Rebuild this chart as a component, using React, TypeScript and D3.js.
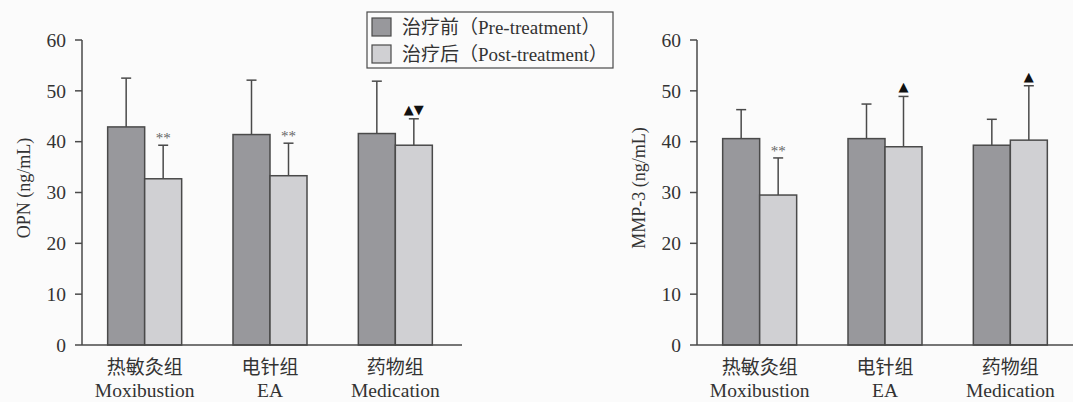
import * as d3 from "d3";

const categoriesZh = ["热敏灸组", "电针组", "药物组"];
const categoriesEn = ["Moxibustion", "EA", "Medication"];
const seriesKeys = ["pre", "post"];
const legendLabels = ["治疗前（Pre-treatment）", "治疗后（Post-treatment）"];

const opnPre = [42.9, 41.4, 41.6];
const opnPreSd = [9.6, 10.7, 10.3];
const opnPost = [32.7, 33.3, 39.3];
const opnPostSd = [6.6, 6.4, 5.2];
const opnMarks = ["**", "**", "▲▼"];

const mmpPre = [40.6, 40.6, 39.3];
const mmpPreSd = [5.7, 6.8, 5.1];
const mmpPost = [29.5, 39.0, 40.3];
const mmpPostSd = [7.3, 9.9, 10.7];
const mmpMarks = ["**", "▲", "▲"];

const yTicks = [0, 10, 20, 30, 40, 50, 60];

const COLORS = { pre: "#98989c", post: "#d0d0d3" };
const STROKE = "#4a4a4a";
const TEXT = "#333";
const SERIF = "'Liberation Serif', 'Noto Sans CJK SC', serif";

type PanelProps = {
  left: number;
  right: number;
  label: string;
  pre: number[];
  preSd: number[];
  post: number[];
  postSd: number[];
  marks: string[];
};

function Panel({ left, right, label, pre, preSd, post, postSd, marks }: PanelProps) {
  const y = d3.scaleLinear().domain([0, 60]).range([345, 40]);
  const x = d3.scalePoint().domain(categoriesZh).range([left, left + 376]).padding(0.5);
  const inner = d3.scaleBand().domain(seriesKeys).range([-37, 37]);

  const rows = categoriesZh.flatMap((c, i) => [
    { c, i, key: "pre", v: pre[i], sd: preSd[i] },
    { c, i, key: "post", v: post[i], sd: postSd[i] }
  ]);

  return (
    <g>
      {rows.map((d) => {
        const x0 = (x(d.c) ?? 0) + (inner(d.key) ?? 0);
        const w = inner.bandwidth();
        const cx = x0 + w / 2;
        return (
          <g key={d.c + d.key}>
            <line x1={cx} x2={cx} y1={y(d.v)} y2={y(d.v + d.sd)} stroke={STROKE} strokeWidth={1.5} />
            <line x1={cx - 5} x2={cx + 5} y1={y(d.v + d.sd)} y2={y(d.v + d.sd)} stroke={STROKE} strokeWidth={1.5} />
            <rect
              x={x0}
              y={y(d.v)}
              width={w}
              height={y(0) - y(d.v)}
              fill={COLORS[d.key as "pre" | "post"]}
              stroke={STROKE}
              strokeWidth={1.5}
            />
          </g>
        );
      })}
      {categoriesZh.map((c, i) => {
        const cx = (x(c) ?? 0) + (inner("post") ?? 0) + inner.bandwidth() / 2;
        const top = y(post[i] + postSd[i]);
        const star = marks[i] === "**";
        return (
          <text
            key={"m" + c}
            x={cx}
            y={top - (star ? 2 : 5)}
            textAnchor="middle"
            fontSize={star ? 15 : 13}
            fontFamily={star ? SERIF : "'DejaVu Sans', sans-serif"}
            fill={star ? "#666" : "#111"}
          >
            {marks[i]}
          </text>
        );
      })}
      <line x1={left} x2={left} y1={y(0)} y2={y(60)} stroke={STROKE} strokeWidth={1.5} />
      <line x1={left} x2={right} y1={y(0)} y2={y(0)} stroke={STROKE} strokeWidth={1.5} />
      {yTicks.map((t) => (
        <g key={t}>
          <line x1={left - 7} x2={left} y1={y(t)} y2={y(t)} stroke={STROKE} strokeWidth={1.5} />
          <text
            x={left - 16}
            y={y(t)}
            dy="0.35em"
            textAnchor="end"
            fontSize={19.5}
            fontFamily={SERIF}
            fill={TEXT}
          >
            {t}
          </text>
        </g>
      ))}
      {categoriesZh.map((c, i) => (
        <g key={"c" + c}>
          <text x={x(c)} y={374} textAnchor="middle" fontSize={19} fontFamily={SERIF} fill={TEXT}>
            {c}
          </text>
          <text x={x(c)} y={397} textAnchor="middle" fontSize={19.5} fontFamily={SERIF} fill={TEXT}>
            {categoriesEn[i]}
          </text>
        </g>
      ))}
      <text
        transform={`translate(${left - 58},188) rotate(-90)`}
        textAnchor="middle"
        dy="0.35em"
        fontSize={18}
        fontFamily={SERIF}
        fill={TEXT}
      >
        {label}
      </text>
    </g>
  );
}

export default function App() {
  return (
    <svg
      width={1073}
      height={402}
      style={{ position: "absolute", left: 0, top: 0, display: "block" }}
    >
      <rect width={1073} height={402} fill="#fbfbfb" />
      <Panel
        left={82}
        right={462}
        label="OPN (ng/mL)"
        pre={opnPre}
        preSd={opnPreSd}
        post={opnPost}
        postSd={opnPostSd}
        marks={opnMarks}
      />
      <Panel
        left={697}
        right={1073}
        label="MMP-3 (ng/mL)"
        pre={mmpPre}
        preSd={mmpPreSd}
        post={mmpPost}
        postSd={mmpPostSd}
        marks={mmpMarks}
      />
      <g>
        <rect x={367} y={12} width={246} height={56} fill="#fbfbfb" stroke={STROKE} strokeWidth={1.2} />
        {seriesKeys.map((k, i) => (
          <g key={k}>
            <rect
              x={372}
              y={18 + i * 27}
              width={19}
              height={18}
              fill={COLORS[k as "pre" | "post"]}
              stroke={STROKE}
              strokeWidth={1.2}
            />
            <text x={402} y={27 + i * 27} dy="0.35em" fontSize={19} fontFamily={SERIF} fill={TEXT}>
              {legendLabels[i]}
            </text>
          </g>
        ))}
      </g>
    </svg>
  );
}
